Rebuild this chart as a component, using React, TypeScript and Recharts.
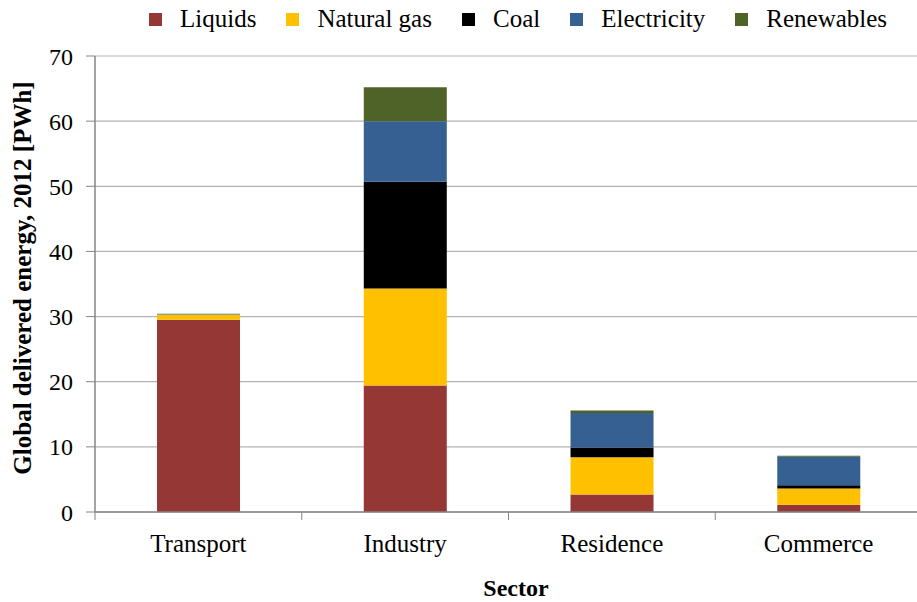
import React from 'react';
import { BarChart, Bar, XAxis, YAxis, CartesianGrid, Legend } from 'recharts';

const sectors = ['Transport', 'Industry', 'Residence', 'Commerce'];
const liquids = [29.5, 19.4, 2.7, 1.1];
const naturalGas = [0.8, 14.9, 5.7, 2.5];
const coal = [0.0, 16.4, 1.5, 0.5];
const electricity = [0.15, 9.3, 5.3, 4.4];
const renewables = [0.0, 5.2, 0.4, 0.15];
const yTicks = [0, 10, 20, 30, 40, 50, 60, 70];

const seriesNames = ['Liquids', 'Natural gas', 'Coal', 'Electricity', 'Renewables'];
const seriesKeys = ['liquids', 'naturalGas', 'coal', 'electricity', 'renewables'];
const seriesColors = ['#953735', '#FFC000', '#000000', '#376092', '#4F6228'];

const data = sectors.map((s, i) => ({
  sector: s,
  liquids: liquids[i],
  naturalGas: naturalGas[i],
  coal: coal[i],
  electricity: electricity[i],
  renewables: renewables[i],
}));

const FONT = '"Liberation Serif", "Times New Roman", serif';
const AXIS = '#868686';

const LegendContent = () => (
  <div style={{ height: 56, width: 917, display: 'flex', flexWrap: 'nowrap', alignItems: 'flex-start', paddingLeft: 149, paddingTop: 4, fontFamily: FONT, fontSize: 25, color: '#000', boxSizing: 'border-box' }}>
    {seriesNames.map((n, i) => (
      <div key={n} style={{ display: 'flex', alignItems: 'center', marginRight: 30, flexShrink: 0, whiteSpace: 'nowrap' }}>
        <span style={{ display: 'inline-block', width: 13, height: 13, background: seriesColors[i], marginRight: 18 }} />
        <span style={{ lineHeight: '30px' }}>{n}</span>
      </div>
    ))}
  </div>
);

const XTick = (props: any) => {
  const { x, y, payload } = props;
  const half = payload && payload.offset ? payload.offset : 0;
  return (
    <g>
      <line x1={x - half} x2={x - half} y1={y - 8} y2={y} stroke={AXIS} strokeWidth={1} />
      <text x={x} y={y + 32} textAnchor="middle" fontFamily={FONT} fontSize={25} fill="#000">
        {payload.value}
      </text>
    </g>
  );
};

const YLabel = (props: any) => {
  const { viewBox } = props;
  const cy = viewBox.y + viewBox.height / 2 - 6;
  return (
    <text x={22} y={cy} transform={`rotate(-90, 22, ${cy})`} textAnchor="middle" dominantBaseline="central" fontFamily={FONT} fontSize={25} fontWeight="bold" fill="#000">
      Global delivered energy, 2012 [PWh]
    </text>
  );
};

const XLabel = (props: any) => {
  const { viewBox } = props;
  return (
    <text x={516} y={viewBox.y + 84} textAnchor="middle" fontFamily={FONT} fontSize={24} fontWeight="bold" fill="#000">
      Sector
    </text>
  );
};

export default function App() {
  return (
    <div style={{ position: 'absolute', left: 0, top: 0, width: 917, height: 602, overflow: 'hidden', background: '#fff' }}>
      <BarChart
        width={925}
        height={602}
        data={data}
        margin={{ top: 0, right: 3, bottom: 0, left: 0 }}
        barCategoryGap="30%"
      >
        <CartesianGrid vertical={false} stroke="#b3b3b3" strokeWidth={1.2} />
        <Legend verticalAlign="top" wrapperStyle={{ top: 0, left: 0, width: 917 }} content={<LegendContent />} />
        <XAxis
          dataKey="sector"
          height={90}
          axisLine={{ stroke: AXIS, strokeWidth: 1.5 }}
          tickLine={false}
          tick={<XTick />}
          interval={0}
          label={<XLabel />}
        />
        <YAxis
          width={95}
          domain={[0, 70]}
          ticks={yTicks}
          interval={0}
          axisLine={{ stroke: AXIS, strokeWidth: 1.5 }}
          tickLine={{ stroke: AXIS }}
          tickSize={9}
          tickMargin={13}
          tick={{ fontFamily: FONT, fontSize: 24, fill: '#000' }}
          label={<YLabel />}
        />
        {seriesKeys.map((k, i) => (
          <Bar key={k} dataKey={k} name={seriesNames[i]} stackId="a" fill={seriesColors[i]} isAnimationActive={false} />
        ))}
      </BarChart>
    </div>
  );
}
